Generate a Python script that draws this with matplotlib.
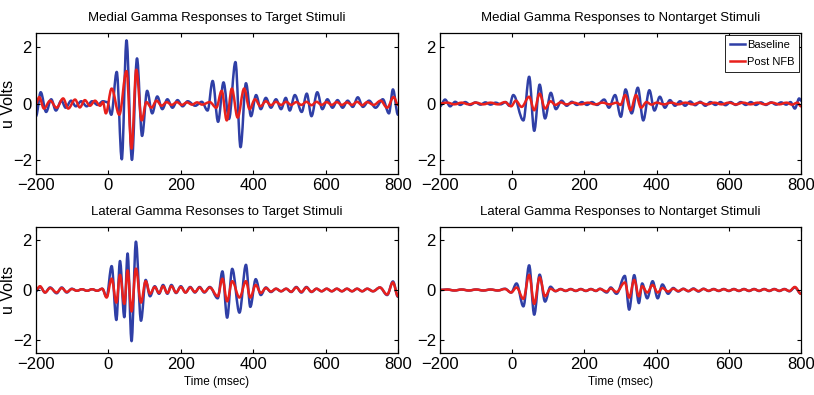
import numpy as np
import matplotlib.pyplot as plt
from matplotlib.path import Path
from matplotlib.patches import PathPatch
from matplotlib.lines import Line2D

plt.rcParams['font.family'] = ['Liberation Sans', 'DejaVu Sans']

# === Data: extrema of the averaged gamma responses (msec, uV) ===
# Medial, target stimuli
p1_base_t = [-200, -187, -172, -158, -145, -130, -118, -103, -90, -75, -60, -45, -30, -15, -3, 8,
             23, 37, 50, 65, 79, 93, 107, 121, 135, 149, 163, 177, 191, 205, 219, 240, 258, 274,
             288, 303, 318, 333, 351, 365, 380, 394, 408, 421, 435, 449, 463, 477, 490, 501, 515,
             534, 548, 561, 577, 591, 605, 619, 633, 647, 661, 675, 689, 703, 720, 738, 758, 775,
             786, 800]
p1_base_v = [-0.45, 0.40, -0.30, 0.15, -0.25, 0.10, -0.15, 0.10, -0.10, 0.08, -0.10, 0.08, -0.05, 0.08,
             0.05, -0.40, 1.12, -1.98, 2.24, -2.00, 1.60, -1.15, 0.45, -0.35, 0.25, -0.20, 0.15, -0.15,
             0.12, -0.10, 0.08, -0.08, 0.06, -0.25, 0.80, -0.65, 0.75, -0.55, 1.47, -1.55, 0.72, -0.45,
             0.30, -0.20, 0.20, -0.15, 0.15, -0.20, 0.20, -0.25, 0.30, -0.30, 0.35, -0.45, 0.40, -0.20,
             0.15, -0.15, 0.12, -0.15, 0.10, -0.12, 0.22, -0.12, 0.10, -0.15, 0.15, -0.35, 0.50, -0.40]
p1_post_t = [-200, -191, -178, -161, -143, -125, -111, -92, -79, -65, -51, -37, -23, -15, -7, 9, 30,
             50, 64, 77, 92, 105, 119, 133, 147, 161, 175, 189, 203, 217, 231, 245, 259, 280, 298,
             313, 327, 341, 357, 375, 390, 405, 420, 435, 449, 463, 477, 491, 505, 519, 533, 547,
             561, 575, 589, 603, 617, 631, 645, 659, 673, 687, 701, 715, 733, 752, 770, 788, 800]
p1_post_v = [0.00, 0.23, -0.18, 0.10, -0.15, 0.18, -0.18, 0.14, -0.14, 0.12, -0.08, 0.10, -0.08, 0.05,
             -0.35, 0.53, -0.40, 1.15, -1.60, 1.20, -0.60, 0.05, -0.15, 0.10, -0.08, 0.05, -0.05, 0.05,
             -0.05, 0.04, -0.04, 0.04, -0.04, 0.05, -0.15, 0.45, -0.60, 0.53, -0.50, 0.53, -0.20, 0.15,
             -0.10, 0.08, -0.06, 0.06, -0.05, 0.06, -0.05, 0.05, -0.05, 0.06, -0.06, 0.06, -0.05, 0.05,
             -0.05, 0.05, -0.05, 0.04, -0.05, 0.06, -0.06, 0.05, -0.05, 0.10, -0.15, 0.23, -0.05]

# Medial, nontarget stimuli
p2_base_t = [-200, -186, -172, -158, -144, -130, -116, -102, -88, -74, -60, -46, -32, -18, -8, 3, 31,
             47, 61, 76, 91, 107, 121, 137, 151, 165, 179, 193, 207, 221, 235, 255, 268, 285, 301,
             314, 331, 348, 363, 380, 394, 409, 423, 437, 451, 465, 479, 493, 507, 521, 535, 549,
             563, 577, 591, 605, 619, 633, 647, 661, 675, 689, 703, 717, 731, 745, 759, 771, 783,
             795, 800]
p2_base_v = [-0.10, 0.14, -0.10, 0.06, -0.05, 0.05, -0.05, 0.04, -0.04, 0.04, -0.04, 0.03, -0.03, 0.05,
             -0.08, 0.30, -0.60, 0.95, -0.97, 0.67, -0.53, 0.38, -0.20, 0.10, -0.08, 0.06, -0.05, 0.05,
             -0.05, 0.05, -0.05, 0.14, -0.15, 0.30, -0.47, 0.50, -0.35, 0.56, -0.60, 0.47, -0.25, 0.24,
             -0.15, 0.12, -0.08, 0.08, -0.08, 0.07, -0.06, 0.06, -0.08, 0.05, -0.05, 0.05, -0.06, 0.05,
             -0.05, 0.05, -0.05, 0.05, -0.05, 0.04, -0.05, 0.04, -0.04, 0.04, -0.04, 0.05, -0.18, 0.18,
             0.10]
p2_post_t = [-200, -180, -160, -140, -120, -100, -80, -60, -40, -20, -3, 10, 26, 47, 61, 76, 91, 106,
             120, 134, 150, 170, 190, 210, 230, 250, 270, 290, 300, 313, 328, 343, 357, 372, 386,
             400, 420, 440, 460, 480, 500, 520, 540, 560, 580, 600, 620, 640, 660, 680, 700, 720,
             740, 760, 775, 790, 800]
p2_post_v = [0.00, 0.03, -0.03, 0.03, -0.03, 0.03, -0.03, 0.03, -0.03, 0.05, -0.10, 0.10, -0.12, 0.24,
             -0.24, 0.35, -0.18, 0.08, -0.05, 0.04, -0.03, 0.03, -0.03, 0.03, -0.03, 0.03, -0.03, 0.03,
             -0.05, 0.30, -0.24, 0.30, -0.15, 0.05, -0.04, 0.03, -0.03, 0.03, -0.03, 0.03, -0.03, 0.03,
             -0.03, 0.03, -0.03, 0.03, -0.03, 0.03, -0.03, 0.03, -0.03, 0.03, -0.03, 0.03, -0.04, 0.03,
             -0.10]

# Lateral, target stimuli (same extrema times for both sessions)
p3_t = [-200, -189, -175, -161, -143, -129, -115, -101, -87, -73, -59, -45, -31, -17, -5, 9, 22, 32,
        44, 53, 64, 76, 90, 103, 115, 128, 140, 151, 163, 174, 187, 200, 213, 226, 239, 252, 265,
        280, 302, 315, 328, 342, 362, 380, 392, 407, 421, 435, 449, 463, 477, 491, 505, 519, 533,
        547, 561, 575, 589, 603, 617, 631, 645, 659, 673, 687, 701, 715, 731, 750, 770, 786, 800]
p3_base_v = [-0.05, 0.13, -0.10, 0.10, -0.13, 0.10, -0.10, 0.05, -0.03, 0.03, -0.03, 0.03, -0.03, 0.05,
             -0.27, 0.95, -1.19, 1.15, -1.08, 1.45, -2.03, 1.92, -1.22, 0.40, -0.25, 0.15, -0.15, 0.20,
             -0.15, 0.20, -0.12, 0.15, -0.10, 0.12, -0.10, 0.12, -0.10, 0.12, -0.33, 0.74, -1.10, 0.84,
             -0.90, 1.00, -0.67, 0.43, -0.20, 0.10, -0.08, 0.05, -0.05, 0.05, -0.08, 0.12, -0.10, 0.12,
             -0.08, 0.05, -0.05, 0.05, -0.05, 0.05, -0.05, 0.05, -0.05, 0.05, -0.05, 0.05, -0.05, 0.10,
             -0.20, 0.34, -0.27]
p3_post_v = [0.00, 0.15, -0.10, 0.08, -0.10, 0.08, -0.08, 0.04, -0.03, 0.03, -0.03, 0.03, -0.03, 0.05,
             -0.30, 0.45, -0.50, 0.60, -0.55, 0.78, -0.85, 0.85, -0.50, 0.35, -0.15, 0.12, -0.12, 0.15,
             -0.12, 0.15, -0.10, 0.12, -0.10, 0.10, -0.08, 0.10, -0.08, 0.10, -0.25, 0.45, -0.45, 0.35,
             -0.30, 0.35, -0.30, 0.20, -0.12, 0.08, -0.06, 0.05, -0.05, 0.05, -0.07, 0.10, -0.08, 0.10,
             -0.07, 0.05, -0.05, 0.05, -0.05, 0.05, -0.05, 0.05, -0.05, 0.05, -0.05, 0.05, -0.05, 0.10,
             -0.18, 0.30, -0.25]

# Lateral, nontarget stimuli (same extrema times for both sessions)
p4_t = [-200, -180, -160, -140, -120, -100, -80, -60, -40, -20, -3, 12, 31, 47, 61, 76, 91, 106, 120,
        134, 148, 162, 176, 190, 204, 218, 232, 243, 262, 273, 289, 312, 324, 338, 351, 360, 374,
        389, 403, 416, 432, 446, 460, 474, 488, 502, 516, 530, 544, 558, 572, 586, 600, 614, 628,
        642, 656, 670, 684, 698, 712, 726, 740, 754, 768, 783, 800]
p4_base_v = [0.00, 0.02, -0.02, 0.02, -0.02, 0.02, -0.02, 0.02, -0.02, 0.05, -0.10, 0.26, -0.65, 0.98,
             -0.98, 0.61, -0.46, 0.13, -0.05, 0.04, -0.04, 0.04, -0.04, 0.04, -0.04, 0.04, -0.04, 0.05,
             -0.10, 0.10, -0.15, 0.56, -0.78, 0.59, -0.52, 0.26, -0.33, 0.35, -0.33, 0.22, -0.15, 0.08,
             -0.06, 0.05, -0.05, 0.06, -0.06, 0.05, -0.04, 0.04, -0.04, 0.04, -0.04, 0.04, -0.04, 0.04,
             -0.04, 0.04, -0.04, 0.04, -0.04, 0.04, -0.04, 0.04, -0.05, 0.10, -0.15]
p4_post_v = [0.00, 0.02, -0.02, 0.02, -0.02, 0.02, -0.02, 0.02, -0.02, 0.04, -0.10, 0.10, -0.35, 0.60,
             -0.55, 0.50, -0.25, 0.05, -0.04, 0.03, -0.03, 0.03, -0.03, 0.03, -0.03, 0.03, -0.03, 0.04,
             -0.06, 0.06, -0.08, 0.30, -0.30, 0.40, -0.25, 0.15, -0.10, 0.20, -0.10, 0.08, -0.06, 0.05,
             -0.04, 0.04, -0.04, 0.04, -0.04, 0.04, -0.03, 0.03, -0.03, 0.03, -0.03, 0.03, -0.03, 0.03,
             -0.03, 0.03, -0.03, 0.03, -0.03, 0.03, -0.03, 0.03, -0.04, 0.12, -0.15]

titles = ["Medial Gamma Responses to Target Stimuli",
          "Medial Gamma Responses to Nontarget Stimuli",
          "Lateral Gamma Resonses to Target Stimuli",
          "Lateral Gamma Responses to Nontarget Stimuli"]
series_labels = ["Baseline", "Post NFB"]
xticks = [-200, 0, 200, 400, 600, 800]
yticks = [-2, 0, 2]

BLUE = '#2f3fa6'
RED = '#e8201c'
LW = 1.8

panels = [
    (p1_base_t, p1_base_v, p1_post_t, p1_post_v),
    (p2_base_t, p2_base_v, p2_post_t, p2_post_v),
    (p3_t, p3_base_v, p3_t, p3_post_v),
    (p4_t, p4_base_v, p4_t, p4_post_v),
]


# === Draw a trace through its extrema as a smooth bezier path (flat at each extremum) ===
def draw_trace(ax, t, v, color):
    verts = [(t[0], v[0])]
    codes = [Path.MOVETO]
    for i in range(1, len(t)):
        d = (t[i] - t[i - 1]) * 0.36
        verts += [(t[i - 1] + d, v[i - 1]), (t[i] - d, v[i]), (t[i], v[i])]
        codes += [Path.CURVE4] * 3
    ax.add_patch(PathPatch(Path(verts, codes), facecolor='none', edgecolor=color,
                           lw=LW, joinstyle='round', capstyle='round'))


W, H = 814, 395
boxes = [(36, 33, 398, 174), (440, 33, 801, 174), (36, 227, 398, 353), (440, 227, 801, 353)]

fig = plt.figure(figsize=(W / 100, H / 100), dpi=100)
axes = []
for (x0, y0, x1, y1) in boxes:
    axes.append(fig.add_axes([x0 / W, 1 - y1 / H, (x1 - x0) / W, (y1 - y0) / H]))

for i, (ax, (bt, bv, pt, pv)) in enumerate(zip(axes, panels)):
    draw_trace(ax, bt, bv, BLUE)
    draw_trace(ax, pt, pv, RED)
    ax.set_xlim(-200, 800)
    ax.set_ylim(-2.5, 2.5)
    ax.set_xticks(xticks)
    ax.set_yticks(yticks)
    ax.tick_params(direction='in', top=True, right=True, length=3, width=0.8,
                   labelsize=12, pad=3)
    for s in ax.spines.values():
        s.set_linewidth(0.9)
    ax.set_title(titles[i], fontsize=9.5, pad=9)
    if i % 2 == 0:
        ax.set_ylabel('u Volts', fontsize=11.5)
        ax.yaxis.set_label_coords(-0.055, 0.5)
    if i >= 2:
        ax.set_xlabel('Time (msec)', fontsize=8.5, labelpad=3)

handles = [Line2D([], [], color=BLUE, lw=LW), Line2D([], [], color=RED, lw=LW)]
leg = axes[1].legend(handles, series_labels, loc='upper right', fontsize=8,
                     handlelength=1.3, handletextpad=0.2, borderaxespad=0.15,
                     borderpad=0.45, labelspacing=0.65, fancybox=False,
                     edgecolor='black', framealpha=1)
leg.get_frame().set_linewidth(0.6)

fig.savefig('out.png', dpi=100)
